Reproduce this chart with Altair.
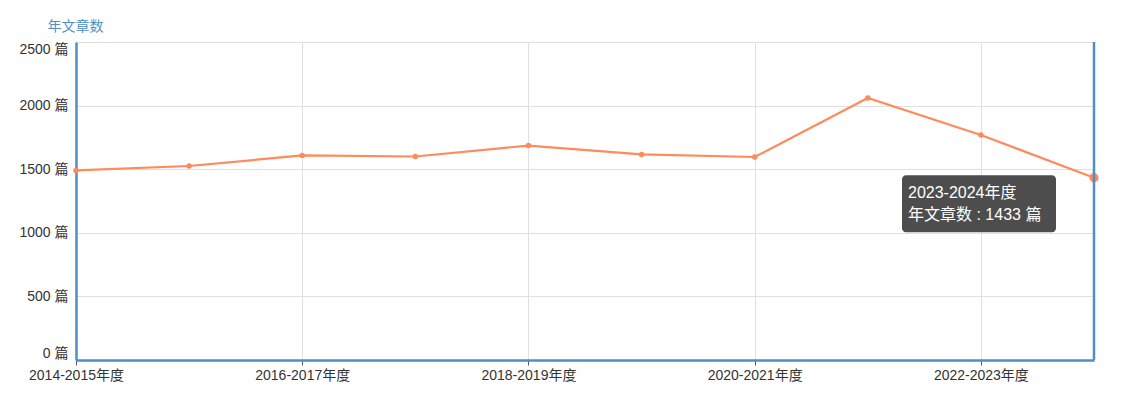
import altair as alt
import pandas as pd

years = ["2014-2015年度", "2015-2016年度", "2016-2017年度", "2017-2018年度",
         "2018-2019年度", "2019-2020年度", "2020-2021年度", "2021-2022年度",
         "2022-2023年度", "2023-2024年度"]
counts = [1490, 1525, 1608, 1600, 1686, 1616, 1596, 2060, 1769, 1433]
tick_years = ["2014-2015年度", "2016-2017年度", "2018-2019年度",
              "2020-2021年度", "2022-2023年度"]
y_ticks = [0, 500, 1000, 1500, 2000, 2500]

BLUE = "#4f8fc6"
ORANGE = "#ff8a5b"
FONT = "Liberation Sans, Noto Sans CJK SC"

df = pd.DataFrame({"year": years, "count": counts})
hl = df.iloc[[-1]].copy()
hl["label"] = "年文章数 : " + hl["count"].astype(str) + " 篇"

x = alt.X("year:N", sort=years,
          scale=alt.Scale(type="point", padding=0),
          axis=alt.Axis(values=tick_years, title=None, labelAngle=0,
                        domainColor=BLUE, domainWidth=2.5,
                        tickColor="#555", tickSize=5, labelPadding=3,
                        labelFontSize=14,
                        grid=True, gridColor="#e0e0e0"))
y = alt.Y("count:Q",
          scale=alt.Scale(domain=[0, 2500], nice=False),
          axis=alt.Axis(values=y_ticks, title="年文章数", titleAngle=0,
                        titleX=-29, titleY=-16, titleAlign="left",
                        titleBaseline="middle", titleColor=BLUE,
                        titleFontSize=14, titleFontWeight="normal",
                        labelExpr="datum.value + ' 篇'", labelFlush=True,
                        labelFontSize=14,
                        ticks=False, labelPadding=8,
                        domainColor=BLUE, domainWidth=2.5,
                        grid=True, gridColor="#e0e0e0"))

base = alt.Chart(df)
line = base.mark_line(color=ORANGE, strokeWidth=2.2).encode(x=x, y=y)
pts = base.mark_circle(color=ORANGE, size=30, opacity=1).encode(x=x, y=y)
big = alt.Chart(hl).mark_circle(color=ORANGE, size=85, opacity=1).encode(x=x, y=y)

border = alt.Chart(pd.DataFrame({"year": [years[-1]]})).mark_rule(
    color=BLUE, strokeWidth=2.5).encode(x=alt.X("year:N", sort=years))

box = alt.Chart(hl).mark_rect(width=154, height=57, xOffset=-115, yOffset=26,
                              cornerRadius=4, color="#4d4d4d",
                              opacity=1).encode(x=x, y=y)
t1 = alt.Chart(hl).mark_text(align="left", baseline="middle", dx=-186, dy=15,
                             color="white", fontSize=16, font=FONT).encode(
    x=x, y=y, text="year:N")
t2 = alt.Chart(hl).mark_text(align="left", baseline="middle", dx=-186, dy=37,
                             color="white", fontSize=16, font=FONT).encode(
    x=x, y=y, text="label:N")

chart = alt.layer(line, pts, big, border, box, t1, t2).properties(
    width=1018, height=318,
    autosize=alt.AutoSizeParams(type="none"),
    padding={"left": 68, "top": 34, "right": 30, "bottom": 46},
).configure_view(stroke=None).configure_axis(
    labelFont=FONT, titleFont=FONT, labelColor="#333"
)

chart.save("out.html", embed_options={"renderer": "svg", "actions": False})
